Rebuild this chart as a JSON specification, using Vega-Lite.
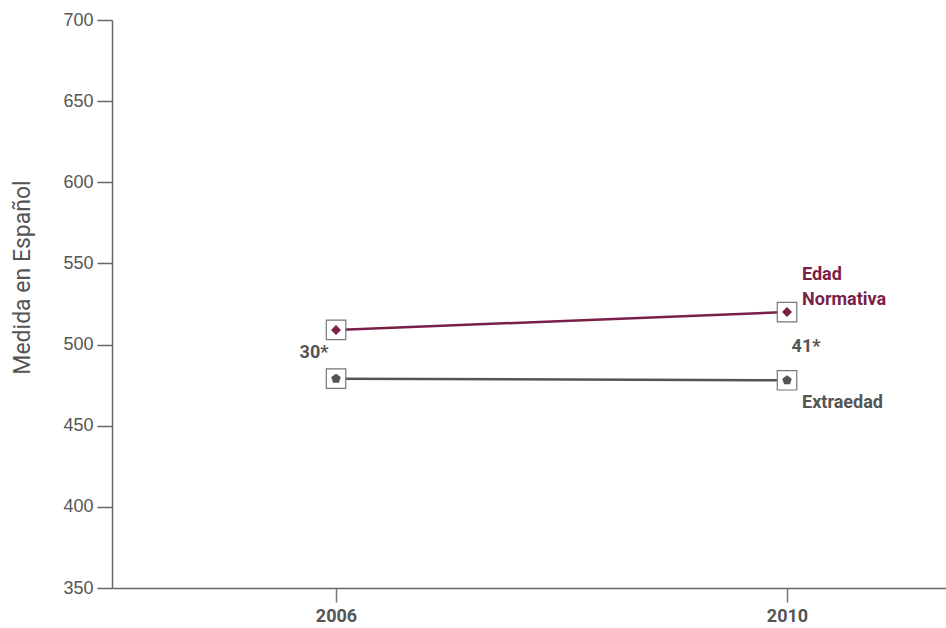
{
  "$schema": "https://vega.github.io/schema/vega-lite/v6.json",
  "width": 834,
  "height": 568,
  "autosize": {"type": "none"},
  "padding": {"left": 112, "top": 20, "right": 0, "bottom": 40},
  "background": "white",
  "config": {"view": {"stroke": null}},
  "datasets": {
    "series": [
      {"serie": "Edad Normativa", "year": 2006, "value": 509},
      {"serie": "Edad Normativa", "year": 2010, "value": 520},
      {"serie": "Extraedad", "year": 2006, "value": 479},
      {"serie": "Extraedad", "year": 2010, "value": 478}
    ],
    "gaps": [
      {"label": "30*", "year": 2006, "value": 495},
      {"label": "41*", "year": 2010, "value": 498.5}
    ]
  },
  "layer": [
    {
      "data": {"name": "series"},
      "mark": {"type": "line", "strokeWidth": 2.5},
      "encoding": {
        "x": {
          "field": "year", "type": "quantitative",
          "scale": {"domain": [2004.013, 2011.41], "nice": false, "zero": false},
          "axis": {
            "values": [2006, 2010], "format": "d", "title": null, "grid": false,
            "domainColor": "#666", "domainWidth": 1.5, "tickColor": "#777", "tickWidth": 1.5, "tickSize": 14,
            "labelFont": "Roboto", "labelFontSize": 18,
            "labelFontWeight": "bold", "labelColor": "#555", "labelPadding": 5, "labelBaseline": "top"
          }
        },
        "y": {
          "field": "value", "type": "quantitative",
          "scale": {"domain": [350, 700], "nice": false, "zero": false},
          "axis": {
            "values": [350, 400, 450, 500, 550, 600, 650, 700], "grid": false,
            "title": "Medida en Español",
            "titleFont": "Roboto", "titleFontSize": 23,
            "titleFontWeight": "normal", "titleColor": "#555",
            "titleX": -90, "titleY": 257, "titleAngle": 270, "titleAlign": "center", "titleBaseline": "middle",
            "domainColor": "#666", "domainWidth": 1.5, "tickColor": "#666", "tickWidth": 1.5, "tickSize": 15,
            "labelFont": "Liberation Sans, Arial, sans-serif", "labelFontSize": 18, "labelColor": "#555", "labelPadding": 4
          }
        },
        "color": {
          "field": "serie", "type": "nominal",
          "scale": {"domain": ["Edad Normativa", "Extraedad"], "range": ["#7a1f47", "#555555"]},
          "legend": null
        }
      }
    },
    {
      "data": {"name": "series"},
      "mark": {"type": "point", "shape": "square", "size": 380, "filled": true, "fill": "white", "stroke": "#777", "strokeWidth": 1.2, "opacity": 1},
      "encoding": {
        "x": {"field": "year", "type": "quantitative"},
        "y": {"field": "value", "type": "quantitative"}
      }
    },
    {
      "data": {"name": "series"},
      "transform": [{"filter": "datum.serie === 'Edad Normativa'"}],
      "mark": {"type": "point", "shape": "diamond", "size": 100, "filled": true, "color": "#7a1f47", "opacity": 1},
      "encoding": {
        "x": {"field": "year", "type": "quantitative"},
        "y": {"field": "value", "type": "quantitative"}
      }
    },
    {
      "data": {"name": "series"},
      "transform": [{"filter": "datum.serie === 'Extraedad'"}],
      "mark": {"type": "point", "shape": "M0,-1L0.95,-0.31L0.59,0.81L-0.59,0.81L-0.95,-0.31Z", "size": 100, "filled": true, "color": "#555555", "opacity": 1},
      "encoding": {
        "x": {"field": "year", "type": "quantitative"},
        "y": {"field": "value", "type": "quantitative"}
      }
    },
    {
      "data": {"name": "gaps"},
      "transform": [{"filter": "datum.label === '30*'"}],
      "mark": {"type": "text", "align": "center", "baseline": "middle", "dx": -22, "font": "Roboto", "fontSize": 18, "fontWeight": "bold", "color": "#555"},
      "encoding": {
        "x": {"field": "year", "type": "quantitative"},
        "y": {"field": "value", "type": "quantitative"},
        "text": {"field": "label"}
      }
    },
    {
      "data": {"name": "gaps"},
      "transform": [{"filter": "datum.label === '41*'"}],
      "mark": {"type": "text", "align": "center", "baseline": "middle", "dx": 19, "font": "Roboto", "fontSize": 18, "fontWeight": "bold", "color": "#555"},
      "encoding": {
        "x": {"field": "year", "type": "quantitative"},
        "y": {"field": "value", "type": "quantitative"},
        "text": {"field": "label"}
      }
    },
    {
      "data": {"name": "series"},
      "transform": [{"filter": "datum.serie === 'Edad Normativa' && datum.year === 2010"}],
      "mark": {"type": "text", "align": "left", "baseline": "alphabetic", "dx": 15, "dy": -32, "lineHeight": 25, "font": "Roboto", "fontSize": 18, "fontWeight": "bold", "color": "#7a1f47"},
      "encoding": {
        "x": {"field": "year", "type": "quantitative"},
        "y": {"field": "value", "type": "quantitative"},
        "text": {"value": ["Edad", "Normativa"]}
      }
    },
    {
      "data": {"name": "series"},
      "transform": [{"filter": "datum.serie === 'Extraedad' && datum.year === 2010"}],
      "mark": {"type": "text", "align": "left", "baseline": "alphabetic", "dx": 15, "dy": 28, "font": "Roboto", "fontSize": 18, "fontWeight": "bold", "color": "#555"},
      "encoding": {
        "x": {"field": "year", "type": "quantitative"},
        "y": {"field": "value", "type": "quantitative"},
        "text": {"value": "Extraedad"}
      }
    }
  ]
}
